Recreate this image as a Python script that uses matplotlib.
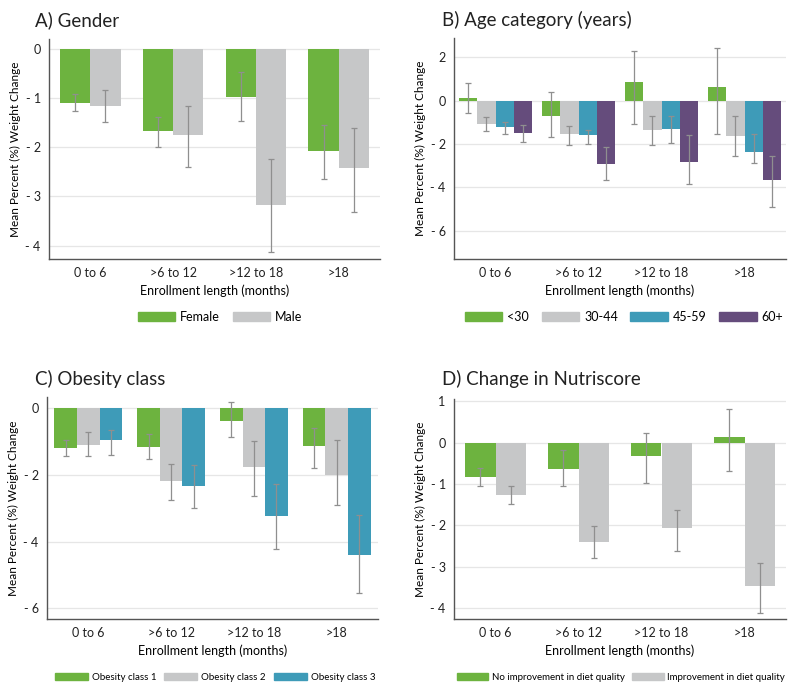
import numpy as np
import matplotlib.pyplot as plt
from matplotlib.patches import Patch

plt.rcParams['font.family'] = ['Lato', 'DejaVu Sans']

categories = ["0 to 6", ">6 to 12", ">12 to 18", ">18"]

# A) Gender
gender_labels = ["Female", "Male"]
gender_mean = [[-1.11, -1.66, -0.98, -2.07],
               [-1.17, -1.76, -3.18, -2.43]]
gender_hi = [[-0.92, -1.39, -0.47, -1.54],
             [-0.84, -1.17, -2.24, -1.61]]
gender_lo = [[-1.27, -2.00, -1.46, -2.65],
             [-1.49, -2.41, -4.12, -3.32]]

# B) Age category
age_labels = ["<30", "30-44", "45-59", "60+"]
age_mean = [[0.12, -0.68, 0.89, 0.63],
            [-1.06, -1.55, -1.34, -1.62],
            [-1.22, -1.57, -1.31, -2.34],
            [-1.48, -2.91, -2.83, -3.65]]
age_hi = [[0.82, 0.40, 2.32, 2.43],
          [-0.75, -1.15, -0.68, -0.69],
          [-0.98, -1.34, -0.72, -1.55],
          [-1.11, -2.15, -1.60, -2.55]]
age_lo = [[-0.57, -1.65, -1.08, -1.54],
          [-1.38, -2.06, -2.06, -2.55],
          [-1.52, -2.00, -1.95, -2.88],
          [-1.91, -3.65, -3.82, -4.88]]

# C) Obesity class
ob_labels = ["Obesity class 1", "Obesity class 2", "Obesity class 3"]
ob_mean = [[-1.20, -1.16, -0.38, -1.15],
           [-1.10, -2.20, -1.77, -2.02],
           [-0.97, -2.35, -3.24, -4.41]]
ob_hi = [[-0.95, -0.78, 0.19, -0.60],
         [-0.73, -1.68, -1.00, -0.96],
         [-0.67, -1.72, -2.28, -3.20]]
ob_lo = [[-1.45, -1.52, -0.88, -1.81],
         [-1.43, -2.76, -2.65, -2.92],
         [-1.41, -3.00, -4.21, -5.53]]

# D) Change in Nutriscore
nutri_labels = ["No improvement in diet quality", "Improvement in diet quality"]
nutri_mean = [[-0.83, -0.64, -0.32, 0.13],
              [-1.27, -2.41, -2.06, -3.47]]
nutri_hi = [[-0.62, -0.19, 0.23, 0.82],
            [-1.05, -2.02, -1.64, -2.91]]
nutri_lo = [[-1.05, -1.04, -0.97, -0.69],
            [-1.48, -2.79, -2.63, -4.11]]

GREEN = "#6db33f"
GRAY = "#c6c7c8"
TEAL = "#3e9bb8"
PURPLE = "#654c7c"

fig = plt.figure(figsize=(8, 6.95), dpi=100)
W, H = 800, 695


def px_axes(l, t, r, b):
    return fig.add_axes([l / W, 1 - b / H, (r - l) / W, (b - t) / H])


def panel(ax, labels, means, his, los, colors, total_w, ylim, yticks,
          title, title_xy, legend_xy, legend_fs, legend_cols, hlen, colsp):
    n = len(labels)
    x = np.arange(len(categories))
    w = total_w / n
    for i in range(n):
        pos = x - total_w / 2 + w * (i + 0.5)
        m = np.array(means[i])
        hi = np.array(his[i])
        lo = np.array(los[i])
        ax.bar(pos, m, width=w, color=colors[i], zorder=2)
        ax.errorbar(pos, (hi + lo) / 2, yerr=(hi - lo) / 2, fmt='none',
                    ecolor="#8f8f8f", elinewidth=0.9, capsize=2.5,
                    capthick=0.9, zorder=3)
    ax.set_xlim(-0.5, 3.5)
    ax.set_ylim(*ylim)
    ax.set_yticks(yticks)
    ax.set_yticklabels([("- %d" % abs(t)) if t < 0 else "%d" % t for t in yticks])
    ax.set_xticks(x)
    ax.set_xticklabels(categories)
    ax.tick_params(length=0, labelsize=9, colors="#222222", pad=6)
    ax.yaxis.grid(True, color="#e6e6e6", linewidth=0.9, zorder=0)
    ax.set_axisbelow(True)
    for s in ["top", "right"]:
        ax.spines[s].set_visible(False)
    for s in ["left", "bottom"]:
        ax.spines[s].set_color("#555555")
        ax.spines[s].set_linewidth(1.0)
    ax.set_xlabel("Enrollment length (months)", fontsize=9, labelpad=4)
    ax.set_ylabel("Mean Percent (%) Weight Change", fontsize=8.5, labelpad=3)
    fig.text(title_xy[0] / W, 1 - title_xy[1] / H, title, fontsize=13.5,
             va='center', ha='left', color="#222222")
    handles = [Patch(color=colors[i], label=labels[i]) for i in range(n)]
    fig.legend(handles=handles, loc='center',
               bbox_to_anchor=(legend_xy[0] / W, 1 - legend_xy[1] / H),
               ncol=legend_cols, frameon=False, fontsize=legend_fs,
               handlelength=hlen, handleheight=0.75, handletextpad=0.4,
               columnspacing=colsp)


axA = px_axes(49, 39, 380, 259)
panel(axA, gender_labels, gender_mean, gender_hi, gender_lo, [GREEN, GRAY],
      0.73, (-4.27, 0.2), [0, -1, -2, -3, -4], "A) Gender", (35, 20),
      (220, 317), 9, 2, 3.0, 1.0)

axB = px_axes(454, 38, 786, 259)
panel(axB, age_labels, age_mean, age_hi, age_lo, [GREEN, GRAY, TEAL, PURPLE],
      0.87, (-7.3, 2.9), [2, 0, -2, -4, -6], "B) Age category (years)", (442, 20),
      (624, 317), 9, 4, 3.0, 1.0)

axC = px_axes(47, 397, 378, 619)
panel(axC, ob_labels, ob_mean, ob_hi, ob_lo, [GREEN, GRAY, TEAL],
      0.82, (-6.32, 0.33), [0, -2, -4, -6], "C) Obesity class", (35, 379),
      (215, 677), 7, 3, 3.4, 0.8)

axD = px_axes(454, 399, 786, 619)
panel(axD, nutri_labels, nutri_mean, nutri_hi, nutri_lo, [GREEN, GRAY],
      0.73, (-4.26, 1.05), [1, 0, -1, -2, -3, -4], "D) Change in Nutriscore", (442, 379),
      (621, 677), 7, 2, 3.2, 0.8)

fig.savefig("out.png", dpi=100)
